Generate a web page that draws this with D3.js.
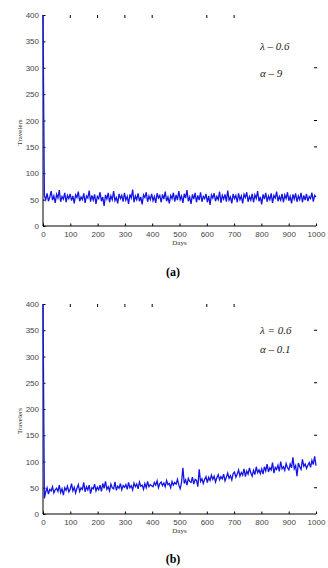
<!DOCTYPE html>
<html>
<head>
<meta charset="utf-8">
<script src="https://cdn.jsdelivr.net/npm/d3@7"></script>
<style>
  body { margin: 0; background: #fff; }
  svg { display: block; }
</style>
</head>
<body>
<svg id="chart" width="328" height="568"></svg>
<script>
// travelers per day, sampled along 0..1000 days (first point is the initial value)
var seriesA = [400,
  58,50,62,47,55,66,49,57,44,60,53,68,46,56,51,63,45,58,52,61,
  48,57,43,59,54,65,47,55,50,62,44,57,53,67,46,58,49,60,42,56,
  52,64,47,55,38,59,51,63,45,57,50,66,48,54,43,61,52,58,46,63,
  49,56,42,60,53,69,45,57,50,62,47,55,41,59,54,64,46,57,50,61,
  48,56,44,62,53,58,45,60,51,65,47,55,43,58,52,63,46,59,49,66,
  50,57,44,61,53,68,47,55,42,60,51,63,45,58,49,64,46,56,52,61,
  45,57,40,59,53,62,47,56,50,65,44,58,51,60,46,67,49,55,43,61,
  52,58,45,62,50,57,43,60,54,64,46,56,49,61,45,59,52,66,47,55,
  41,60,51,63,46,57,50,62,44,58,53,65,47,56,49,61,45,59,52,64,
  48,56,43,60,51,62,46,57,50,63,45,58,49,61,47,56,52,63,46,58,55];

var seriesB = [400,
  30,42,50,38,47,44,52,40,46,49,43,55,41,48,36,50,45,53,42,47,
  58,44,51,40,49,56,43,50,47,60,42,52,46,55,39,50,48,57,44,51,
  46,55,43,58,49,62,47,52,44,57,50,48,61,45,53,49,58,46,54,51,
  56,47,60,50,54,46,59,52,57,48,61,53,55,47,58,50,62,52,56,54,
  52,60,55,63,50,58,61,54,59,52,64,56,58,50,62,55,60,57,66,55,
  48,60,88,58,65,55,68,62,60,70,57,66,64,52,85,62,67,58,66,71,
  60,70,64,74,66,72,61,69,75,65,71,67,76,63,70,78,68,73,65,77,
  80,70,76,84,72,79,74,86,71,82,76,88,78,72,83,75,90,79,84,77,
  86,76,90,82,95,80,88,84,98,78,89,85,93,81,100,86,90,83,96,88,
  84,95,88,108,86,92,72,97,90,85,104,91,95,87,93,98,89,102,94,110,92];

var xTicks = [0,100,200,300,400,500,600,700,800,900,1000];
var yTicks = [0,50,100,150,200,250,300,350,400];
// stray tick marks left on the top and right edges of each box
var topTicksA = [100,200,300,400,600,700];
var rightTicksA = [300,200,150];
var topTicksB = [100,200,300,400,600,700];
var rightTicksB = [350,250,150,50];

var serif = "'Liberation Serif', 'Times New Roman', serif";

var panels = [
  {data: seriesA, top: 15, bottom: 226, lam: "\u03bb \u2013 0.6", alp: "\u03b1 \u2013 9",
   lamY: 50, alpY: 77, label: "(a)", labelY: 276, topTicks: topTicksA, rightTicks: rightTicksA},
  {data: seriesB, top: 304, bottom: 514, lam: "\u03bb = 0.6", alp: "\u03b1 \u2013 0.1",
   lamY: 334, alpY: 353, label: "(b)", labelY: 563, topTicks: topTicksB, rightTicks: rightTicksB}
];

var svg = d3.select("#chart");
var left = 43, right = 316;

panels.forEach(function(p) {
  var x = d3.scaleLinear().domain([0, 1000]).range([left, right]);
  var y = d3.scaleLinear().domain([0, 400]).range([p.bottom, p.top]);
  var g = svg.append("g");
  var n = p.data.length;

  // left axis (ticks inward)
  var yAxis = d3.axisLeft(y).tickValues(yTicks).tickSize(-2.5).tickPadding(4).tickFormat(d3.format("d"));
  var ya = g.append("g").attr("transform", "translate(" + left + ",0)").call(yAxis);
  // bottom axis (ticks inward)
  var xAxis = d3.axisBottom(x).tickValues(xTicks).tickSize(-2.5).tickPadding(5).tickFormat(d3.format("d"));
  var xa = g.append("g").attr("transform", "translate(0," + p.bottom + ")").call(xAxis);

  [ya, xa].forEach(function(a) {
    a.select(".domain").attr("stroke", "#000").attr("stroke-width", 1);
    a.selectAll(".tick line").attr("stroke", "#000");
    a.selectAll(".tick text")
      .attr("font-family", "'Liberation Sans', Arial, sans-serif")
      .attr("font-size", 8)
      .attr("fill", "#444");
  });
  ya.select(".domain").attr("d", "M0," + p.bottom + "V" + p.top);
  xa.select(".domain").attr("d", "M" + left + ",0H" + right);

  // data line, drawn over the axes
  var line = d3.line()
    .x(function(d, i) { return x(i * 1000 / (n - 1)); })
    .y(function(d) { return y(d); });
  g.append("path")
    .datum(p.data)
    .attr("d", line)
    .attr("fill", "none")
    .attr("stroke", "#1414e6")
    .attr("stroke-width", 1.3);

  // stray ticks on top and right
  g.selectAll(".tt").data(p.topTicks).enter().append("line")
    .attr("x1", function(d) { return x(d); }).attr("x2", function(d) { return x(d); })
    .attr("y1", p.top).attr("y2", p.top + 3)
    .attr("stroke", "#000");
  g.selectAll(".rt").data(p.rightTicks).enter().append("line")
    .attr("x1", right - 2).attr("x2", right + 1)
    .attr("y1", function(d) { return y(d); }).attr("y2", function(d) { return y(d); })
    .attr("stroke", "#000");

  // axis titles
  g.append("text")
    .attr("transform", "translate(22," + (y(200) + 12) + ") rotate(-90)")
    .attr("text-anchor", "middle")
    .attr("font-family", serif)
    .attr("font-size", 7)
    .attr("fill", "#333")
    .text("Travelers");
  g.append("text")
    .attr("x", x(500)).attr("y", p.bottom + 19)
    .attr("text-anchor", "middle")
    .attr("font-family", serif)
    .attr("font-size", 7)
    .attr("fill", "#333")
    .text("Days");

  // parameter annotations
  [[p.lam, p.lamY], [p.alp, p.alpY]].forEach(function(t) {
    g.append("text")
      .attr("x", 260).attr("y", t[1])
      .attr("font-family", serif)
      .attr("font-style", "italic")
      .attr("font-size", 11)
      .attr("fill", "#222")
      .text(t[0]);
  });

  // panel label
  g.append("text")
    .attr("x", 173).attr("y", p.labelY)
    .attr("text-anchor", "middle")
    .attr("font-family", serif)
    .attr("font-weight", "bold")
    .attr("font-size", 12)
    .attr("fill", "#000")
    .text(p.label);
});
</script>
</body>
</html>
